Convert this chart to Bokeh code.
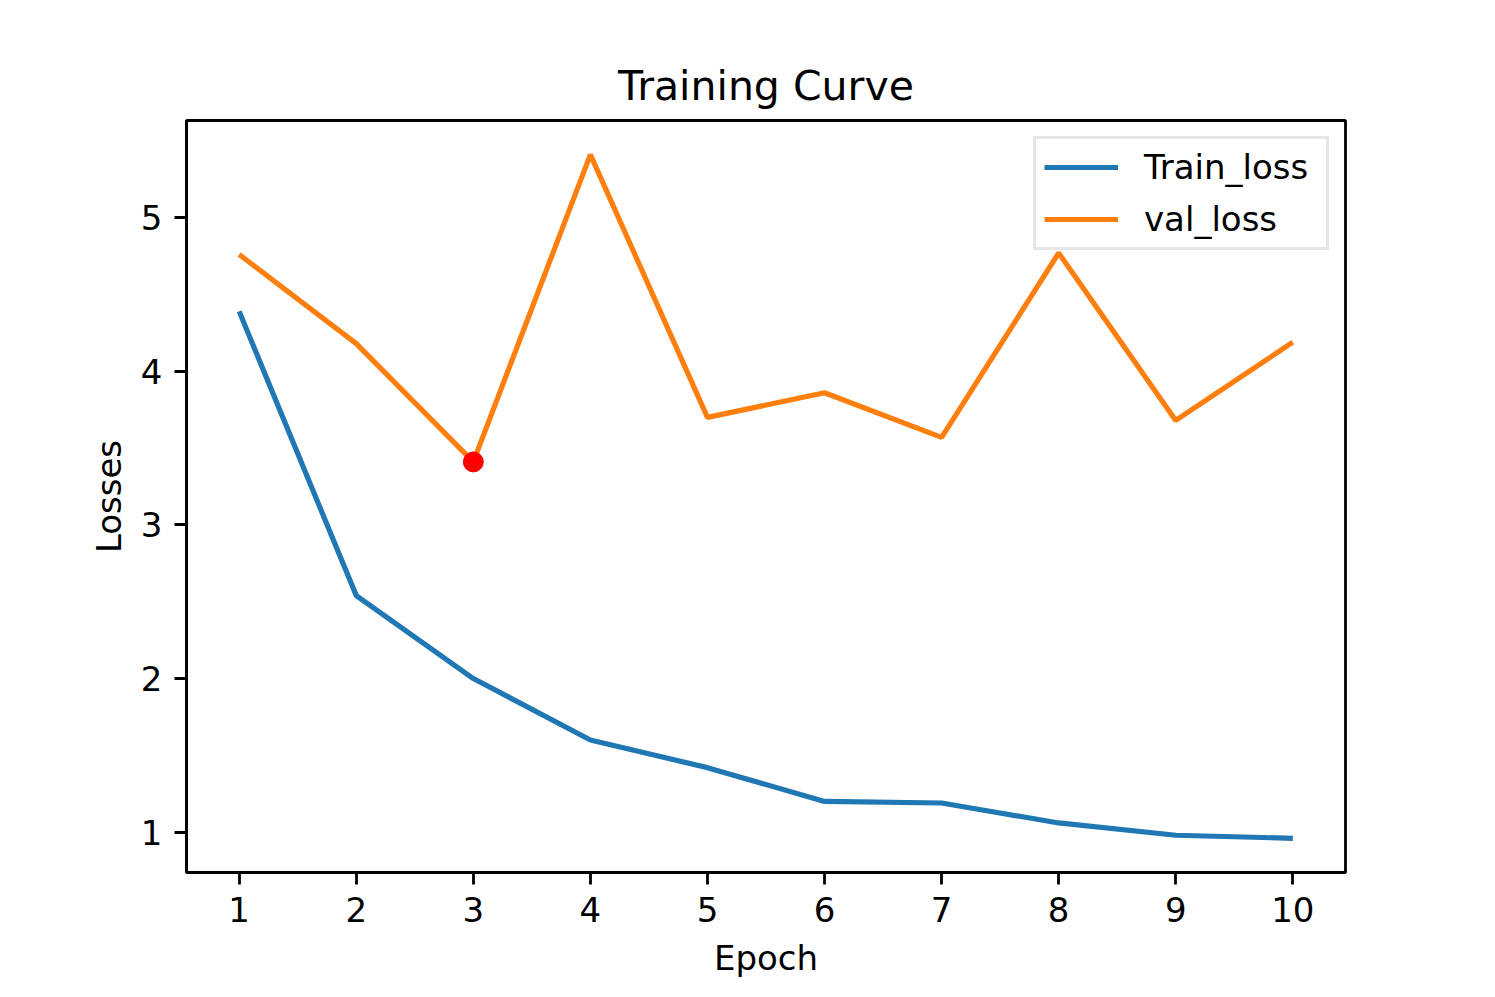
from bokeh.plotting import figure
from bokeh.models import FixedTicker, Legend, LegendItem, Range1d
from bokeh.embed import file_html
from bokeh.resources import INLINE

epochs = [1, 2, 3, 4, 5, 6, 7, 8, 9, 10]
train_loss = [4.39, 2.54, 2.00, 1.60, 1.42, 1.20, 1.19, 1.06, 0.98, 0.96]
val_loss = [4.76, 4.18, 3.41, 5.41, 3.70, 3.86, 3.57, 4.77, 3.68, 4.19]
x_ticks = [1, 2, 3, 4, 5, 6, 7, 8, 9, 10]
y_ticks = [1, 2, 3, 4, 5]

FONT = "DejaVu Sans"

xmin, xmax = min(epochs), max(epochs)
xpad = 0.05 * (xmax - xmin)
allv = train_loss + val_loss
ymin, ymax = min(allv), max(allv)
ypad = 0.05 * (ymax - ymin)

p = figure(width=1487, height=989, output_backend="svg", toolbar_location=None,
           x_range=Range1d(xmin - xpad, xmax + xpad),
           y_range=Range1d(ymin - ypad, ymax + ypad),
           min_border_left=186, min_border_right=142,
           min_border_top=120, min_border_bottom=117)

p.title.text = "Training Curve"
p.title.align = "center"
p.title.text_font = FONT
p.title.text_font_size = "41px"
p.title.text_font_style = "normal"
p.title.text_color = "black"
p.title.standoff = 22

p.outline_line_color = "black"
p.outline_line_width = 2.8
p.outline_line_alpha = 1.0
p.xgrid.visible = False
p.ygrid.visible = False
p.background_fill_color = "white"
p.border_fill_color = "white"

for ax in (p.xaxis[0], p.yaxis[0]):
    ax.axis_line_color = "black"
    ax.axis_line_width = 2.8
    ax.major_tick_line_color = "black"
    ax.major_tick_line_width = 2.8
    ax.major_tick_out = 12
    ax.major_tick_in = 0
    ax.minor_tick_line_color = None
    ax.major_label_text_font = FONT
    ax.major_label_text_font_size = "34px"
    ax.major_label_text_color = "black"
    ax.axis_label_text_font = FONT
    ax.axis_label_text_font_size = "34px"
    ax.axis_label_text_font_style = "normal"
    ax.axis_label_text_color = "black"
    ax.major_label_standoff = 12

p.xaxis.ticker = FixedTicker(ticks=x_ticks)
p.yaxis.ticker = FixedTicker(ticks=y_ticks)
p.xaxis.axis_label = "Epoch"
p.yaxis.axis_label = "Losses"
p.xaxis.axis_label_standoff = 13
p.yaxis.axis_label_standoff = 9

r1 = p.line(epochs, train_loss, line_color="#1f77b4", line_width=5.2)
r2 = p.line(epochs, val_loss, line_color="#ff7f0e", line_width=5.2)

best = val_loss.index(min(val_loss))
p.scatter([epochs[best]], [val_loss[best]], size=20, fill_color="red", line_color="red")

legend = Legend(items=[LegendItem(label="Train_loss", renderers=[r1]),
                       LegendItem(label="val_loss", renderers=[r2])],
                location="top_right")
legend.label_text_font = FONT
legend.label_text_font_size = "34px"
legend.label_text_color = "black"
legend.glyph_width = 74
legend.glyph_height = 36
legend.label_height = 36
legend.label_width = 174
legend.label_standoff = 26
legend.spacing = 12
legend.padding = 8
legend.margin = 16
legend.border_line_color = "#cccccc"
legend.border_line_width = 3
legend.background_fill_alpha = 0.8
p.add_layout(legend)

open("out.html", "w").write(file_html(p, INLINE))
